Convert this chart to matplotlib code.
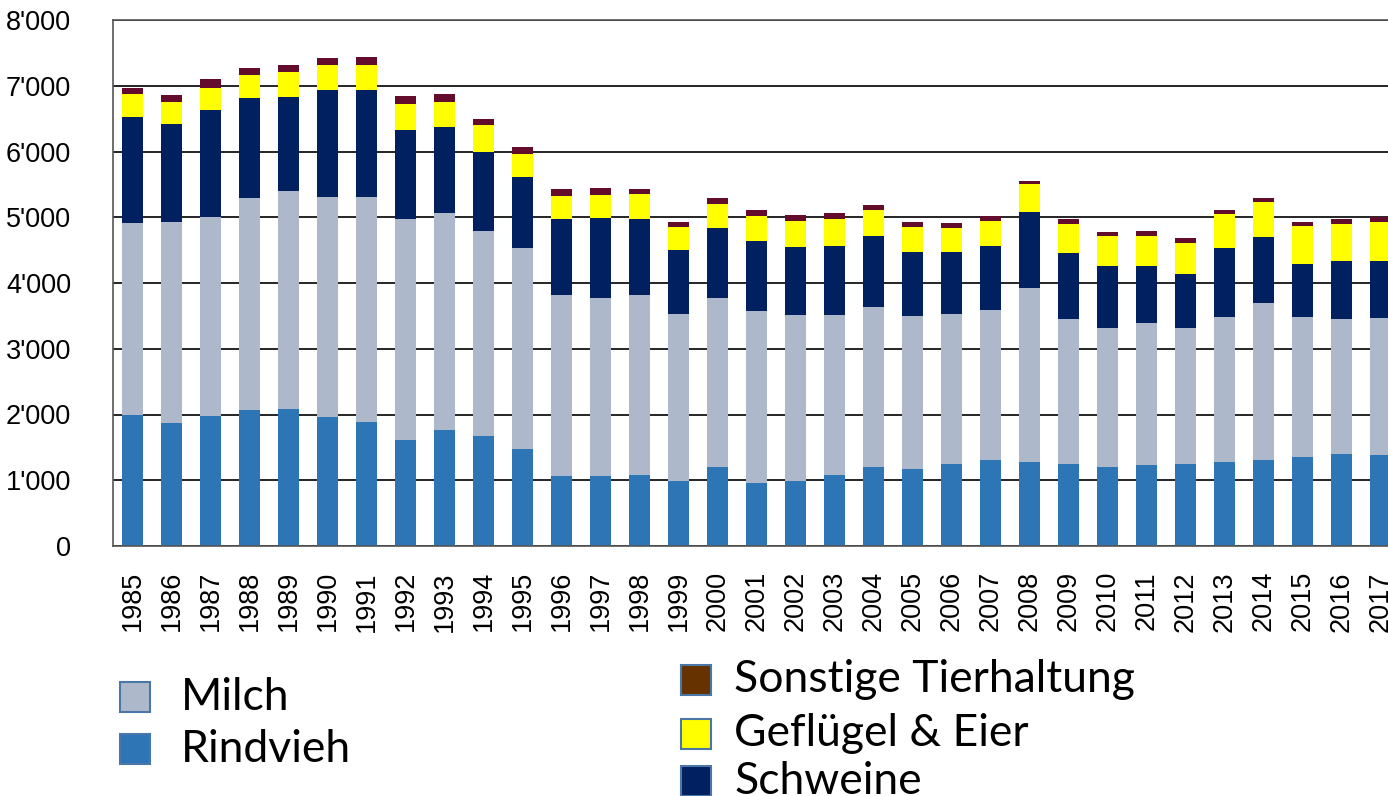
import matplotlib
matplotlib.use("Agg")
from matplotlib import pyplot as plt
from matplotlib.patches import Rectangle
from matplotlib.ticker import FuncFormatter

years = [str(y) for y in range(1985, 2018)]

top_rindvieh = [1992, 1870, 1977, 2068, 2083, 1957, 1886, 1617, 1764, 1673, 1475,
                1059, 1059, 1080, 994, 1206, 953, 994, 1080, 1206, 1171, 1242,
                1313, 1277, 1242, 1206, 1227, 1242, 1277, 1313, 1348, 1404, 1384]
top_milch = [4912, 4932, 5003, 5292, 5393, 5307, 5307, 4968, 5059, 4785, 4537,
             3817, 3766, 3817, 3523, 3766, 3569, 3518, 3518, 3629, 3498, 3533,
             3589, 3928, 3447, 3320, 3391, 3320, 3482, 3695, 3482, 3447, 3462]
top_schweine = [6519, 6412, 6630, 6808, 6828, 6934, 6934, 6326, 6377, 5997, 5611,
                4968, 4983, 4968, 4496, 4836, 4643, 4552, 4567, 4714, 4476, 4476,
                4567, 5074, 4461, 4263, 4263, 4141, 4537, 4694, 4283, 4339, 4339]
top_gefluegel = [6868, 6757, 6970, 7168, 7203, 7309, 7309, 6721, 6757, 6397, 5966,
                 5328, 5343, 5348, 4846, 5201, 5018, 4947, 4968, 5110, 4856, 4841,
                 4947, 5510, 4897, 4714, 4714, 4608, 5054, 5236, 4861, 4897, 4932]
top_sonstige = [6970, 6863, 7097, 7274, 7315, 7421, 7441, 6848, 6868, 6488, 6073,
                5434, 5449, 5434, 4932, 5292, 5110, 5039, 5059, 5181, 4932, 4912,
                5018, 5556, 4968, 4770, 4790, 4679, 5110, 5287, 4932, 4968, 5003]

tops = [top_rindvieh, top_milch, top_schweine, top_gefluegel, top_sonstige]
labels = ["Rindvieh", "Milch", "Schweine", "Geflügel & Eier", "Sonstige Tierhaltung"]
colors = ["#2e75b6", "#adb9ca", "#002060", "#ffff00", "#640c2c"]

fig = plt.figure(figsize=(13.88, 7.96), dpi=100)
W, H = 1388, 796
# axes runs past the right edge on purpose, like the cut-off original
ax = fig.add_axes([113 / W, (H - 546) / H, 1287 / W, 526 / H])

x = range(len(years))
bottom = [0] * len(years)
for top, lab, col in zip(tops, labels, colors):
    heights = [t - b for t, b in zip(top, bottom)]
    ax.bar(x, heights, bottom=bottom, width=0.52, color=col, label=lab, zorder=2)
    bottom = list(top)

ax.set_xlim(-0.5, len(years) - 0.5)
ax.set_ylim(0, 8000)
ax.set_yticks(range(0, 8001, 1000))
ax.yaxis.set_major_formatter(FuncFormatter(lambda v, p: f"{int(v):,}".replace(",", "'")))
ax.set_xticks(list(x))
ax.set_xticklabels(years, rotation=90)
ax.grid(axis="y", color="black", linewidth=1.2, zorder=1)
ax.tick_params(length=0, labelsize=19.5)
ax.tick_params(axis="y", pad=30)
ax.tick_params(axis="x", pad=18)
for lbl in ax.get_xticklabels() + ax.get_yticklabels():
    lbl.set_fontfamily("Liberation Sans")
for side in ["left", "bottom", "top"]:
    ax.spines[side].set_color("#555555")
    ax.spines[side].set_linewidth(1.2)
ax.spines["right"].set_visible(False)

# legend drawn by hand, two groups below the plot
legend_left = [("Milch", "#adb9ca", 697), ("Rindvieh", "#2e75b6", 749)]
legend_right = [("Sonstige Tierhaltung", "#663300", 680),
                ("Geflügel & Eier", "#ffff00", 734),
                ("Schweine", "#002060", 781)]

def add_legend(items, x_box, x_text):
    for name, col, yc in items:
        fig.patches.append(Rectangle((x_box / W, (H - yc - 15) / H), 30 / W, 30 / H,
                                     facecolor=col, edgecolor="#4a76a8", linewidth=1.5,
                                     transform=fig.transFigure, figure=fig))
        fig.text(x_text / W, (H - yc) / H, name, fontsize=32, family="Lato",
                 va="center", ha="left")

add_legend(legend_left, 120, 181)
add_legend(legend_right, 681, 734)

fig.savefig("out.png", dpi=100)
